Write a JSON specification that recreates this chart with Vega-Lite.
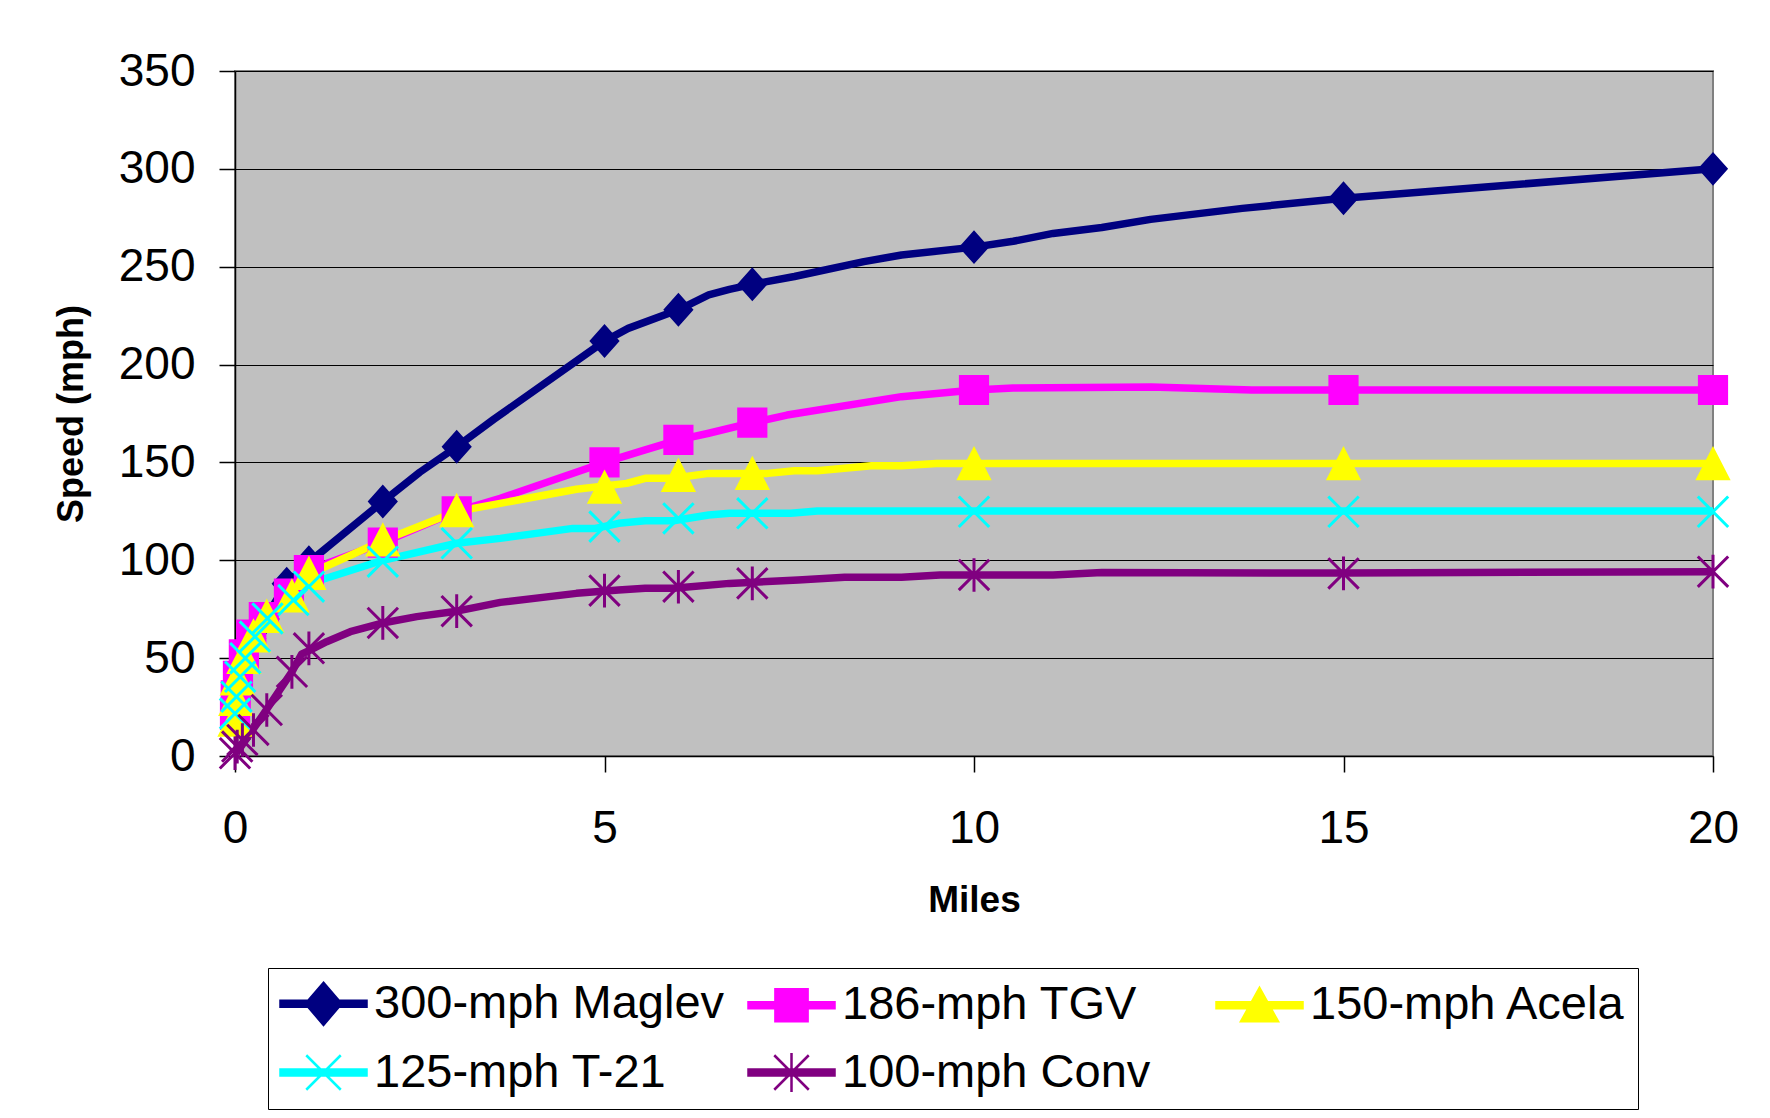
{
  "$schema": "https://vega.github.io/schema/vega-lite/v6.json",
  "autosize": "none",
  "width": 1478,
  "height": 685,
  "padding": {"left": 235, "top": 71, "right": 57, "bottom": 362},
  "background": "white",
  "config": {
    "view": {"fill": "#C0C0C0", "stroke": "#808080", "strokeWidth": 2},
    "font": "Liberation Sans"
  },
  "datasets": {
    "lines": [
      {"series": "300-mph Maglev", "miles": 0, "mph": 20}, {"series": "300-mph Maglev", "miles": 0.01, "mph": 30}, {"series": "300-mph Maglev", "miles": 0.04, "mph": 40}, {"series": "300-mph Maglev", "miles": 0.12, "mph": 50}, {"series": "300-mph Maglev", "miles": 0.22, "mph": 60}, {"series": "300-mph Maglev", "miles": 0.4, "mph": 70}, {"series": "300-mph Maglev", "miles": 0.7, "mph": 88}, {"series": "300-mph Maglev", "miles": 1, "mph": 99}, {"series": "300-mph Maglev", "miles": 2, "mph": 130}, {"series": "300-mph Maglev", "miles": 2.5, "mph": 145}, {"series": "300-mph Maglev", "miles": 3, "mph": 158}, {"series": "300-mph Maglev", "miles": 3.5, "mph": 172}, {"series": "300-mph Maglev", "miles": 5, "mph": 212}, {"series": "300-mph Maglev", "miles": 5.32, "mph": 218.5}, {"series": "300-mph Maglev", "miles": 6, "mph": 228}, {"series": "300-mph Maglev", "miles": 6.41, "mph": 235.6}, {"series": "300-mph Maglev", "miles": 6.69, "mph": 238.4}, {"series": "300-mph Maglev", "miles": 7, "mph": 241}, {"series": "300-mph Maglev", "miles": 7.57, "mph": 245}, {"series": "300-mph Maglev", "miles": 8.51, "mph": 252.6}, {"series": "300-mph Maglev", "miles": 9.02, "mph": 256}, {"series": "300-mph Maglev", "miles": 10, "mph": 260}, {"series": "300-mph Maglev", "miles": 10.53, "mph": 263}, {"series": "300-mph Maglev", "miles": 11.07, "mph": 267}, {"series": "300-mph Maglev", "miles": 11.73, "mph": 270}, {"series": "300-mph Maglev", "miles": 12.39, "mph": 274.2}, {"series": "300-mph Maglev", "miles": 13.63, "mph": 279.8}, {"series": "300-mph Maglev", "miles": 15, "mph": 285}, {"series": "300-mph Maglev", "miles": 20, "mph": 300},
      {"series": "186-mph TGV", "miles": 0, "mph": 21}, {"series": "186-mph TGV", "miles": 0.01, "mph": 31}, {"series": "186-mph TGV", "miles": 0.04, "mph": 41}, {"series": "186-mph TGV", "miles": 0.12, "mph": 52}, {"series": "186-mph TGV", "miles": 0.22, "mph": 62}, {"series": "186-mph TGV", "miles": 0.39, "mph": 71}, {"series": "186-mph TGV", "miles": 0.73, "mph": 83}, {"series": "186-mph TGV", "miles": 1, "mph": 95}, {"series": "186-mph TGV", "miles": 2, "mph": 109}, {"series": "186-mph TGV", "miles": 3, "mph": 125}, {"series": "186-mph TGV", "miles": 3.59, "mph": 131.7}, {"series": "186-mph TGV", "miles": 5, "mph": 150}, {"series": "186-mph TGV", "miles": 5.55, "mph": 156.4}, {"series": "186-mph TGV", "miles": 6, "mph": 161.5}, {"series": "186-mph TGV", "miles": 6.41, "mph": 164.9}, {"series": "186-mph TGV", "miles": 7, "mph": 170.3}, {"series": "186-mph TGV", "miles": 7.47, "mph": 174.2}, {"series": "186-mph TGV", "miles": 9.02, "mph": 183.6}, {"series": "186-mph TGV", "miles": 10, "mph": 187}, {"series": "186-mph TGV", "miles": 10.53, "mph": 188}, {"series": "186-mph TGV", "miles": 12.4, "mph": 188.5}, {"series": "186-mph TGV", "miles": 13.76, "mph": 187}, {"series": "186-mph TGV", "miles": 15, "mph": 187}, {"series": "186-mph TGV", "miles": 20, "mph": 187},
      {"series": "150-mph Acela", "miles": 0, "mph": 18}, {"series": "150-mph Acela", "miles": 0.01, "mph": 28.6}, {"series": "150-mph Acela", "miles": 0.03, "mph": 39}, {"series": "150-mph Acela", "miles": 0.12, "mph": 50}, {"series": "150-mph Acela", "miles": 0.25, "mph": 61}, {"series": "150-mph Acela", "miles": 0.43, "mph": 71}, {"series": "150-mph Acela", "miles": 0.77, "mph": 81.4}, {"series": "150-mph Acela", "miles": 1, "mph": 93}, {"series": "150-mph Acela", "miles": 2, "mph": 110}, {"series": "150-mph Acela", "miles": 3, "mph": 125}, {"series": "150-mph Acela", "miles": 3.59, "mph": 129.1}, {"series": "150-mph Acela", "miles": 4.62, "mph": 136.3}, {"series": "150-mph Acela", "miles": 5.3, "mph": 139.3}, {"series": "150-mph Acela", "miles": 5.55, "mph": 141.9}, {"series": "150-mph Acela", "miles": 5.93, "mph": 141.9}, {"series": "150-mph Acela", "miles": 6.41, "mph": 144.4}, {"series": "150-mph Acela", "miles": 7.21, "mph": 144.4}, {"series": "150-mph Acela", "miles": 7.57, "mph": 145.8}, {"series": "150-mph Acela", "miles": 7.88, "mph": 145.8}, {"series": "150-mph Acela", "miles": 8.61, "mph": 148.3}, {"series": "150-mph Acela", "miles": 9.02, "mph": 148.3}, {"series": "150-mph Acela", "miles": 9.49, "mph": 149.5}, {"series": "150-mph Acela", "miles": 20, "mph": 149.5},
      {"series": "125-mph T-21", "miles": 0, "mph": 21.7}, {"series": "125-mph T-21", "miles": 0.02, "mph": 30.3}, {"series": "125-mph T-21", "miles": 0.07, "mph": 40.5}, {"series": "125-mph T-21", "miles": 0.14, "mph": 50}, {"series": "125-mph T-21", "miles": 0.27, "mph": 61}, {"series": "125-mph T-21", "miles": 0.44, "mph": 70.3}, {"series": "125-mph T-21", "miles": 0.79, "mph": 79.7}, {"series": "125-mph T-21", "miles": 1, "mph": 88}, {"series": "125-mph T-21", "miles": 2, "mph": 100}, {"series": "125-mph T-21", "miles": 3, "mph": 108.7}, {"series": "125-mph T-21", "miles": 3.59, "mph": 111.2}, {"series": "125-mph T-21", "miles": 4.57, "mph": 116.3}, {"series": "125-mph T-21", "miles": 4.88, "mph": 116.3}, {"series": "125-mph T-21", "miles": 5.19, "mph": 118.9}, {"series": "125-mph T-21", "miles": 5.55, "mph": 120.2}, {"series": "125-mph T-21", "miles": 5.93, "mph": 120.2}, {"series": "125-mph T-21", "miles": 6.41, "mph": 123.1}, {"series": "125-mph T-21", "miles": 6.69, "mph": 124}, {"series": "125-mph T-21", "miles": 7.52, "mph": 124}, {"series": "125-mph T-21", "miles": 7.88, "mph": 125.2}, {"series": "125-mph T-21", "miles": 20, "mph": 125.2},
      {"series": "100-mph Conv", "miles": 0.02, "mph": 1.5}, {"series": "100-mph Conv", "miles": 0.36, "mph": 20}, {"series": "100-mph Conv", "miles": 0.77, "mph": 43}, {"series": "100-mph Conv", "miles": 0.9, "mph": 52}, {"series": "100-mph Conv", "miles": 1.01, "mph": 54}, {"series": "100-mph Conv", "miles": 1.24, "mph": 58.4}, {"series": "100-mph Conv", "miles": 1.56, "mph": 63.5}, {"series": "100-mph Conv", "miles": 1.98, "mph": 67.8}, {"series": "100-mph Conv", "miles": 2.46, "mph": 71.2}, {"series": "100-mph Conv", "miles": 3, "mph": 74}, {"series": "100-mph Conv", "miles": 3.59, "mph": 78.5}, {"series": "100-mph Conv", "miles": 4.62, "mph": 83.1}, {"series": "100-mph Conv", "miles": 5.19, "mph": 84.8}, {"series": "100-mph Conv", "miles": 5.55, "mph": 85.7}, {"series": "100-mph Conv", "miles": 5.93, "mph": 85.7}, {"series": "100-mph Conv", "miles": 6.69, "mph": 88.2}, {"series": "100-mph Conv", "miles": 7.62, "mph": 89.9}, {"series": "100-mph Conv", "miles": 8.25, "mph": 91.3}, {"series": "100-mph Conv", "miles": 9.02, "mph": 91.3}, {"series": "100-mph Conv", "miles": 9.54, "mph": 92.5}, {"series": "100-mph Conv", "miles": 11.07, "mph": 92.5}, {"series": "100-mph Conv", "miles": 11.73, "mph": 93.7}, {"series": "100-mph Conv", "miles": 15, "mph": 93.5}, {"series": "100-mph Conv", "miles": 20, "mph": 94.2}
    ],
    "markers": [
      {"series": "300-mph Maglev", "miles": 0, "mph": 20}, {"series": "300-mph Maglev", "miles": 0.01, "mph": 30}, {"series": "300-mph Maglev", "miles": 0.04, "mph": 40}, {"series": "300-mph Maglev", "miles": 0.12, "mph": 50}, {"series": "300-mph Maglev", "miles": 0.22, "mph": 60}, {"series": "300-mph Maglev", "miles": 0.4, "mph": 70}, {"series": "300-mph Maglev", "miles": 0.7, "mph": 88}, {"series": "300-mph Maglev", "miles": 1, "mph": 99}, {"series": "300-mph Maglev", "miles": 2, "mph": 130}, {"series": "300-mph Maglev", "miles": 3, "mph": 158}, {"series": "300-mph Maglev", "miles": 5, "mph": 212}, {"series": "300-mph Maglev", "miles": 6, "mph": 228}, {"series": "300-mph Maglev", "miles": 7, "mph": 241}, {"series": "300-mph Maglev", "miles": 10, "mph": 260}, {"series": "300-mph Maglev", "miles": 15, "mph": 285}, {"series": "300-mph Maglev", "miles": 20, "mph": 300},
      {"series": "186-mph TGV", "miles": 0, "mph": 21}, {"series": "186-mph TGV", "miles": 0.01, "mph": 31}, {"series": "186-mph TGV", "miles": 0.04, "mph": 41}, {"series": "186-mph TGV", "miles": 0.12, "mph": 52}, {"series": "186-mph TGV", "miles": 0.22, "mph": 62}, {"series": "186-mph TGV", "miles": 0.39, "mph": 71}, {"series": "186-mph TGV", "miles": 0.73, "mph": 83}, {"series": "186-mph TGV", "miles": 1, "mph": 95}, {"series": "186-mph TGV", "miles": 2, "mph": 109}, {"series": "186-mph TGV", "miles": 3, "mph": 125}, {"series": "186-mph TGV", "miles": 5, "mph": 150}, {"series": "186-mph TGV", "miles": 6, "mph": 161.5}, {"series": "186-mph TGV", "miles": 7, "mph": 170.3}, {"series": "186-mph TGV", "miles": 10, "mph": 187}, {"series": "186-mph TGV", "miles": 15, "mph": 187}, {"series": "186-mph TGV", "miles": 20, "mph": 187},
      {"series": "150-mph Acela", "miles": 0, "mph": 18}, {"series": "150-mph Acela", "miles": 0.01, "mph": 28.6}, {"series": "150-mph Acela", "miles": 0.03, "mph": 39}, {"series": "150-mph Acela", "miles": 0.12, "mph": 50}, {"series": "150-mph Acela", "miles": 0.25, "mph": 61}, {"series": "150-mph Acela", "miles": 0.43, "mph": 71}, {"series": "150-mph Acela", "miles": 0.77, "mph": 81.4}, {"series": "150-mph Acela", "miles": 1, "mph": 93}, {"series": "150-mph Acela", "miles": 2, "mph": 110}, {"series": "150-mph Acela", "miles": 3, "mph": 125}, {"series": "150-mph Acela", "miles": 5, "mph": 137}, {"series": "150-mph Acela", "miles": 6, "mph": 143}, {"series": "150-mph Acela", "miles": 7, "mph": 144}, {"series": "150-mph Acela", "miles": 10, "mph": 149}, {"series": "150-mph Acela", "miles": 15, "mph": 149}, {"series": "150-mph Acela", "miles": 20, "mph": 149},
      {"series": "125-mph T-21", "miles": 0, "mph": 21.7}, {"series": "125-mph T-21", "miles": 0.02, "mph": 30.3}, {"series": "125-mph T-21", "miles": 0.07, "mph": 40.5}, {"series": "125-mph T-21", "miles": 0.14, "mph": 50}, {"series": "125-mph T-21", "miles": 0.27, "mph": 61}, {"series": "125-mph T-21", "miles": 0.44, "mph": 70.3}, {"series": "125-mph T-21", "miles": 0.79, "mph": 79.7}, {"series": "125-mph T-21", "miles": 1, "mph": 86.5}, {"series": "125-mph T-21", "miles": 2, "mph": 99.3}, {"series": "125-mph T-21", "miles": 3, "mph": 108.7}, {"series": "125-mph T-21", "miles": 5, "mph": 117.2}, {"series": "125-mph T-21", "miles": 6, "mph": 121.4}, {"series": "125-mph T-21", "miles": 7, "mph": 124}, {"series": "125-mph T-21", "miles": 10, "mph": 124.8}, {"series": "125-mph T-21", "miles": 15, "mph": 124.8}, {"series": "125-mph T-21", "miles": 20, "mph": 124.8},
      {"series": "100-mph Conv", "miles": 0, "mph": 1.4}, {"series": "100-mph Conv", "miles": 0.03, "mph": 4.8}, {"series": "100-mph Conv", "miles": 0.1, "mph": 8.2}, {"series": "100-mph Conv", "miles": 0.25, "mph": 13.3}, {"series": "100-mph Conv", "miles": 0.43, "mph": 23.5}, {"series": "100-mph Conv", "miles": 0.77, "mph": 43}, {"series": "100-mph Conv", "miles": 1, "mph": 55}, {"series": "100-mph Conv", "miles": 2, "mph": 68}, {"series": "100-mph Conv", "miles": 3, "mph": 74}, {"series": "100-mph Conv", "miles": 5, "mph": 84.5}, {"series": "100-mph Conv", "miles": 6, "mph": 86.5}, {"series": "100-mph Conv", "miles": 7, "mph": 88.2}, {"series": "100-mph Conv", "miles": 10, "mph": 92.5}, {"series": "100-mph Conv", "miles": 15, "mph": 93.3}, {"series": "100-mph Conv", "miles": 20, "mph": 94.2}
    ],
    "legendrows": [
      {"series": "300-mph Maglev", "miles": 10, "mph": -300},
      {"series": "186-mph TGV", "miles": 10, "mph": -300},
      {"series": "150-mph Acela", "miles": 10, "mph": -300},
      {"series": "125-mph T-21", "miles": 10, "mph": -300},
      {"series": "100-mph Conv", "miles": 10, "mph": -300}
    ]
  },
  "encoding": {
    "x": {
      "field": "miles", "type": "quantitative",
      "scale": {"domain": [0, 20], "nice": false, "zero": false},
      "axis": {
        "values": [0, 5, 10, 15, 20], "grid": false, "title": "Miles",
        "titleFont": "Liberation Sans", "titleFontSize": 37, "titleFontWeight": "bold", "titleColor": "black", "titlePadding": 31,
        "labelFont": "Liberation Sans", "labelFontSize": 46, "labelColor": "black", "labelPadding": 34, "labelFlush": false, "labelOverlap": false,
        "tickSize": 16, "tickColor": "black", "tickWidth": 1.5, "domainColor": "black", "domainWidth": 1.5
      }
    },
    "y": {
      "field": "mph", "type": "quantitative",
      "scale": {"domain": [0, 350], "nice": false},
      "axis": {
        "values": [0, 50, 100, 150, 200, 250, 300, 350], "grid": true, "gridColor": "black", "gridWidth": 1.2, "title": "Speed (mph)",
        "titleFont": "Liberation Sans", "titleFontSize": 36, "titleFontWeight": "bold", "titleColor": "black", "titlePadding": 28,
        "labelFont": "Liberation Sans", "labelFontSize": 46, "labelColor": "black", "labelPadding": 24, "labelFlush": false, "labelOverlap": false,
        "tickSize": 16, "tickColor": "black", "tickWidth": 1.5, "domainColor": "black", "domainWidth": 1.5
      }
    }
  },
  "layer": [
    {
      "data": {"name": "lines"},
      "mark": {"type": "line", "strokeWidth": 7.5, "strokeJoin": "round", "clip": true},
      "encoding": {
        "color": {
          "field": "series", "type": "nominal", "legend": null,
          "scale": {"domain": ["300-mph Maglev", "186-mph TGV", "150-mph Acela", "125-mph T-21", "100-mph Conv"], "range": ["#000080", "#FF00FF", "#FFFF00", "#00FFFF", "#800080"]}
        }
      }
    },
    {
      "data": {"name": "markers"},
      "mark": {"type": "point", "size": 1024, "strokeWidth": 3, "opacity": 1},
      "encoding": {
        "shape": {
          "field": "series", "type": "nominal", "legend": null,
          "scale": {"domain": ["300-mph Maglev", "186-mph TGV", "150-mph Acela", "125-mph T-21", "100-mph Conv"], "range": ["M0,-0.92L0.82,0L0,0.92L-0.82,0Z", "M-0.85,-0.85H0.85V0.85H-0.85Z", "M0,-0.95L0.95,0.9H-0.95Z", "M-0.95,-0.95L0.95,0.95M-0.95,0.95L0.95,-0.95", "M-0.95,-0.95L0.95,0.95M-0.95,0.95L0.95,-0.95M0,-1.05V1.05"]}
        },
        "fill": {
          "field": "series", "type": "nominal", "legend": null,
          "scale": {"domain": ["300-mph Maglev", "186-mph TGV", "150-mph Acela", "125-mph T-21", "100-mph Conv"], "range": ["#000080", "#FF00FF", "#FFFF00", "#00FFFF", "#800080"]}
        },
        "stroke": {
          "field": "series", "type": "nominal", "legend": null,
          "scale": {"domain": ["300-mph Maglev", "186-mph TGV", "150-mph Acela", "125-mph T-21", "100-mph Conv"], "range": ["#000080", "#FF00FF", "#FFFF00", "#00FFFF", "#800080"]}
        }
      }
    },
    {
      "data": {"name": "legendrows"},
      "mark": {"type": "point", "size": 2116, "strokeWidth": 2.5, "opacity": 1, "clip": true},
      "encoding": {
        "shape": {
          "field": "series", "type": "nominal",
          "scale": {"domain": ["300-mph Maglev", "186-mph TGV", "150-mph Acela", "125-mph T-21", "100-mph Conv"], "range": [
            "M-1,-0.13H2.74V0.13H-1Z M0.87,-0.91L1.65,0L0.87,0.91L0.09,0Z",
            "M-1,-0.13H2.74V0.13H-1Z M0.17,-0.7H1.57V0.7H0.17Z",
            "M-1,-0.13H2.74V0.13H-1Z M0.87,-0.75L1.67,0.7H0.07Z",
            "M-1,-0.13H2.74V0.13H-1Z M0.12,-0.75L1.62,0.75M0.12,0.75L1.62,-0.75",
            "M-1,-0.13H2.74V0.13H-1Z M0.12,-0.75L1.62,0.75M0.12,0.75L1.62,-0.75M0.87,-0.85V0.85"
          ]},
          "legend": {"title": null, "orient": "none", "legendX": 33, "legendY": 897, "columns": 3, "gridAlign": "all", "direction": "horizontal", "padding": 11, "strokeColor": "black", "fillColor": "white", "rowPadding": 17, "columnPadding": 18, "labelFont": "Liberation Sans", "labelFontSize": 47, "labelColor": "black", "labelOffset": 46, "labelLimit": 600, "symbolSize": 2116, "symbolStrokeWidth": 2.5, "symbolOffset": 0}
        },
        "fill": {
          "field": "series", "type": "nominal",
          "scale": {"domain": ["300-mph Maglev", "186-mph TGV", "150-mph Acela", "125-mph T-21", "100-mph Conv"], "range": ["#000080", "#FF00FF", "#FFFF00", "#00FFFF", "#800080"]},
          "legend": {"title": null, "orient": "none", "legendX": 33, "legendY": 897, "columns": 3, "gridAlign": "all", "direction": "horizontal", "padding": 11, "strokeColor": "black", "fillColor": "white", "rowPadding": 17, "columnPadding": 18, "labelFont": "Liberation Sans", "labelFontSize": 47, "labelColor": "black", "labelOffset": 46, "labelLimit": 600, "symbolSize": 2116, "symbolStrokeWidth": 2.5, "symbolOffset": 0}
        },
        "stroke": {
          "field": "series", "type": "nominal",
          "scale": {"domain": ["300-mph Maglev", "186-mph TGV", "150-mph Acela", "125-mph T-21", "100-mph Conv"], "range": ["#000080", "#FF00FF", "#FFFF00", "#00FFFF", "#800080"]},
          "legend": {"title": null, "orient": "none", "legendX": 33, "legendY": 897, "columns": 3, "gridAlign": "all", "direction": "horizontal", "padding": 11, "strokeColor": "black", "fillColor": "white", "rowPadding": 17, "columnPadding": 18, "labelFont": "Liberation Sans", "labelFontSize": 47, "labelColor": "black", "labelOffset": 46, "labelLimit": 600, "symbolSize": 2116, "symbolStrokeWidth": 2.5, "symbolOffset": 0}
        }
      }
    }
  ],
  "resolve": {"scale": {"shape": "independent", "fill": "independent", "stroke": "independent", "color": "independent"}}
}
